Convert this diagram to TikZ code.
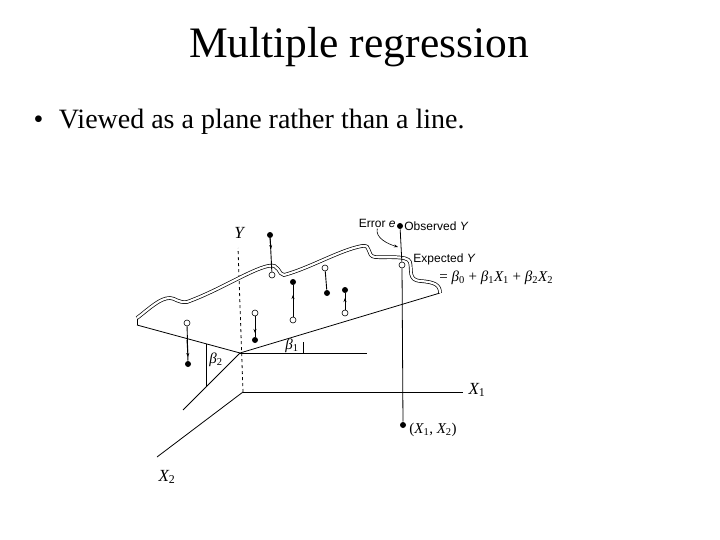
\documentclass[tikz,border=0pt]{standalone}
\usepackage{fontspec}
\setmainfont{Liberation Serif}
\newfontfamily\lab{Liberation Sans}
\newcommand{\vsub}[2]{{\itshape #1}\textsubscript{#2}}
\usetikzlibrary{arrows.meta}
\begin{document}
\begin{tikzpicture}[x=1pt,y=-1pt,line width=0.8pt,
  fdot/.style={circle,fill=black,inner sep=0pt,minimum size=6pt},
  odot/.style={circle,draw=black,fill=white,line width=0.6pt,inner sep=0pt,minimum size=6pt},
  lbl/.style={inner sep=1pt,font=\lab\fontsize{12}{13}\selectfont},
  ax/.style={inner sep=1pt,font=\fontsize{17}{18}\selectfont},
  stem/.style={line width=0.9pt},
  marr/.style={line width=0.9pt,-{Stealth[length=4pt,width=3pt]}}]
\useasboundingbox (0,0) rectangle (720,540);
\node (title) at (359,47) {\fontsize{43.5}{46}\selectfont Multiple regression};
\node[anchor=west] (bullet) at (30,122) {\fontsize{28}{32}\selectfont •\hspace{0.55em}Viewed as a plane rather than a line.};
% axes
\coordinate (O) at (243,392);
\coordinate (X1e) at (463,392);
\coordinate (X2e) at (157,457);
\coordinate (Yt) at (238,248);
\coordinate (P0) at (240,353);
\draw (O) -- (X1e);
\draw (O) -- (X2e);
\draw[dashed] (O) -- (Yt);
\node[ax] (X1l) at (477,390) {\vsub{X}{1}};
\node[ax] (X2l) at (167,477) {\vsub{X}{2}};
\node[ax] (Yl) at (239,233) {\itshape Y};
% plane base lines
\coordinate (PR) at (440,293);
\coordinate (PL) at (137,325);
\coordinate (H1) at (367,353);
\coordinate (D2) at (183,410);
\draw (P0) -- (PR);
\draw (P0) -- (PL);
\draw (P0) -- (H1);
\draw (P0) -- (D2);
\coordinate (b1t) at (303,342); \coordinate (b1b) at (303,353);
\draw (b1t) -- (b1b);
\node[ax,font=\fontsize{15}{16}\selectfont] (b1) at (292,346) {\vsub{β}{1}};
\coordinate (b2t) at (206,344); \coordinate (b2b) at (206,387);
\draw (b2t) -- (b2b);
\node[ax,font=\fontsize{15}{16}\selectfont] (b2) at (216,360) {\vsub{β}{2}};
\draw (PL) -- (137,318);
% wavy top ribbon
\draw[double=white,double distance=2.2pt,line width=0.7pt]
  (137,318) .. controls (150,308) and (160,298) .. (170,298)
  .. controls (175,298) and (178,303) .. (187,302)
  .. controls (220,290) and (250,270) .. (268,266)
  .. controls (280,263) and (278,275) .. (284,275)
  .. controls (310,268) and (340,250) .. (362,246)
  .. controls (372,244) and (366,256) .. (375,257)
  .. controls (385,258) and (408,255) .. (410,262)
  .. controls (412,270) and (408,280) .. (420,281)
  .. controls (435,282) and (440,285) .. (440,293);
% vertical through observed point
\node[fdot] (obs) at (400,226) {};
\node[odot] (exp) at (402,265) {};
\node[fdot] (base) at (403,425) {};
\draw (obs) -- (exp);
\draw (exp) -- (base);
\node[lbl,anchor=east] (err) at (397,223) {Error {\itshape e}};
\node[lbl,anchor=west] (obsl) at (403,226) {Observed {\itshape Y}};
\node[lbl,anchor=west] (expl) at (412,259) {Expected {\itshape Y}};
\node[lbl,anchor=west,font=\fontsize{15}{16}\selectfont] (eq) at (438,278) {= \vsub{β}{0} + \vsub{β}{1}\vsub{X}{1} + \vsub{β}{2}\vsub{X}{2}};
\node[lbl,anchor=west,font=\fontsize{15}{16}\selectfont] (basel) at (408,430) {(\vsub{X}{1}, \vsub{X}{2})};
\draw[-{Stealth[length=4pt,width=3pt]},line width=0.6pt] (err.south) .. controls (375,238) and (388,244) .. (398,247);
% data points
\node[fdot] (f1) at (270,235) {}; \node[odot] (o1) at (272,275) {};
\draw[stem] (o1) -- (f1);
\draw[marr] (270,238) -- (271,249);
\node[odot] (o2) at (325,268) {}; \node[fdot] (f2) at (327,293) {};
\draw[stem] (o2) -- (f2);
\node[fdot] (f3) at (293,282) {}; \node[odot] (o3) at (293,320) {};
\draw[stem] (o3) -- (f3); \draw[marr] (293,310) -- (293,295);
\node[fdot] (f4) at (345,290) {}; \node[odot] (o4) at (345,313) {};
\draw[stem] (o4) -- (f4); \draw[marr] (345,308) -- (345,298);
\node[odot] (o5) at (255,313) {}; \node[fdot] (f5) at (255,340) {};
\draw[stem] (o5) -- (f5); \draw[marr] (255,318) -- (255,333);
\node[odot] (o6) at (187,323) {}; \node[fdot] (f6) at (188,364) {};
\draw[stem] (o6) -- (f6); \draw[marr] (187,340) -- (188,357);
\end{tikzpicture}
\end{document}
